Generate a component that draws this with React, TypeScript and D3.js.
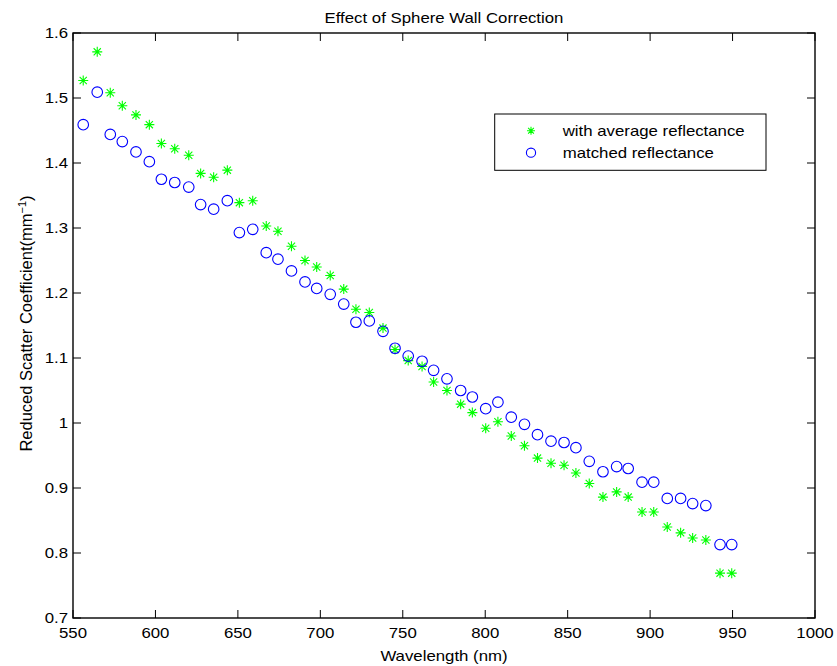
import React from 'react';
import * as d3 from 'd3';

const wavelengths = [556.2, 564.7, 572.6, 579.9, 588.2, 596.3, 603.6, 611.7, 620.2, 627.4, 635.3, 643.6, 650.9, 659.0, 667.2, 674.3, 682.5, 690.7, 697.8, 706.0, 714.2, 721.6, 729.7, 738.0, 745.3, 753.3, 761.7, 768.7, 776.8, 785.1, 792.2, 800.3, 807.7, 815.8, 823.8, 831.7, 839.9, 847.8, 855.0, 863.1, 871.4, 879.7, 886.7, 895.1, 902.2, 910.4, 918.5, 925.8, 933.8, 942.4, 949.5];

const averageReflectance = [1.527, 1.571, 1.508, 1.488, 1.474, 1.459, 1.430, 1.422, 1.412, 1.384, 1.378, 1.389, 1.339, 1.342, 1.303, 1.295, 1.272, 1.250, 1.240, 1.227, 1.206, 1.175, 1.170, 1.146, 1.113, 1.096, 1.087, 1.063, 1.050, 1.029, 1.016, 0.992, 1.002, 0.980, 0.965, 0.946, 0.938, 0.935, 0.923, 0.907, 0.886, 0.894, 0.886, 0.863, 0.863, 0.840, 0.831, 0.823, 0.820, 0.769, 0.769];

const matchedReflectance = [1.459, 1.509, 1.444, 1.433, 1.417, 1.402, 1.375, 1.370, 1.363, 1.336, 1.329, 1.342, 1.293, 1.298, 1.262, 1.252, 1.234, 1.217, 1.207, 1.198, 1.183, 1.155, 1.157, 1.141, 1.115, 1.103, 1.095, 1.081, 1.068, 1.050, 1.040, 1.022, 1.032, 1.009, 0.998, 0.982, 0.972, 0.970, 0.962, 0.941, 0.925, 0.933, 0.930, 0.909, 0.909, 0.884, 0.884, 0.876, 0.873, 0.813, 0.813];

const xTicks = [550, 600, 650, 700, 750, 800, 850, 900, 950, 1000];
const yTicks = [0.7, 0.8, 0.9, 1.0, 1.1, 1.2, 1.3, 1.4, 1.5, 1.6];

const titleText = 'Effect of Sphere Wall Correction';
const xLabelText = 'Wavelength (nm)';
const yLabelText = 'Reduced Scatter Coefficient(mm';
const legendLabels = ['with average reflectance', 'matched reflectance'];

const W = 837;
const H = 666;
const M = { left: 73, right: 815, top: 33, bottom: 618 };
const FONT = '"Liberation Sans", Arial, Helvetica, sans-serif';
const SX = 1.2;
const TICK = 8;
const GREEN = '#00ff00';
const BLUE = '#0000ff';

function T(props: { x: number; y: number; anchor?: string; size?: number; children: any }) {
  const { x, y, anchor = 'start', size = 14, children } = props;
  return (
    <text transform={`translate(${x},${y}) scale(${SX},1)`} textAnchor={anchor} fontSize={size} fontFamily={FONT} fill="#000">
      {children}
    </text>
  );
}

function Star({ cx, cy, s = 5 }: { cx: number; cy: number; s?: number }) {
  const d = s * 0.72;
  const path = `M${-s},0L${s},0M0,${-s}L0,${s}M${-d},${-d}L${d},${d}M${-d},${d}L${d},${-d}`;
  return <path transform={`translate(${cx},${cy})`} d={path} stroke={GREEN} strokeWidth={1.1} fill="none" />;
}

export default function App() {
  const x = d3.scaleLinear().domain([550, 1000]).range([M.left, M.right]);
  const y = d3.scaleLinear().domain([0.7, 1.6]).range([M.bottom, M.top]);
  const fmt = (v: number) => String(+v.toFixed(1));

  const lx = 494.7, ly = 114, lw = 766 - 494.7, lh = 170.3 - 114;

  return (
    <svg width={W} height={H} style={{ position: 'absolute', left: 0, top: 0, background: '#fff' }}>
      <rect x={0} y={0} width={W} height={H} fill="#fff" />
      {xTicks.map((t) => (
        <g key={'xt' + t}>
          <line x1={x(t)} x2={x(t)} y1={M.bottom} y2={M.bottom - TICK} stroke="#000" strokeWidth={1} />
          <line x1={x(t)} x2={x(t)} y1={M.top} y2={M.top + TICK} stroke="#000" strokeWidth={1} />
          <T x={x(t)} y={638} anchor="middle">{fmt(t)}</T>
        </g>
      ))}
      {yTicks.map((t) => (
        <g key={'yt' + t}>
          <line x1={M.left} x2={M.left + TICK} y1={y(t)} y2={y(t)} stroke="#000" strokeWidth={1} />
          <line x1={M.right} x2={M.right - TICK} y1={y(t)} y2={y(t)} stroke="#000" strokeWidth={1} />
          <T x={68} y={y(t) + 5} anchor="end">{fmt(t)}</T>
        </g>
      ))}
      <rect x={M.left} y={M.top} width={M.right - M.left} height={M.bottom - M.top} fill="none" stroke="#000" strokeWidth={1.4} />

      {wavelengths.map((w, i) => (
        <Star key={'s' + i} cx={x(w)} cy={y(averageReflectance[i])} />
      ))}
      {wavelengths.map((w, i) => (
        <circle key={'c' + i} cx={x(w)} cy={y(matchedReflectance[i])} r={5.3} fill="none" stroke={BLUE} strokeWidth={1.1} />
      ))}

      <rect x={lx} y={ly} width={lw} height={lh} fill="#fff" stroke="#000" strokeWidth={1} />
      <Star cx={531} cy={130.7} s={4} />
      <circle cx={531} cy={152.7} r={4.6} fill="none" stroke={BLUE} strokeWidth={1.1} />
      <T x={562.7} y={136}>{legendLabels[0]}</T>
      <T x={562.7} y={158}>{legendLabels[1]}</T>

      <T x={(M.left + M.right) / 2} y={23} anchor="middle">{titleText}</T>
      <T x={(M.left + M.right) / 2} y={661} anchor="middle">{xLabelText}</T>
      <text transform={`translate(32,${(M.top + M.bottom) / 2 - 2}) rotate(-90)`} textAnchor="middle" fontSize={16.5} fontFamily={FONT} fill="#000">
        {yLabelText}
        <tspan dy={-6} fontSize={11}>−1</tspan>
        <tspan dy={6}>)</tspan>
      </text>
    </svg>
  );
}
